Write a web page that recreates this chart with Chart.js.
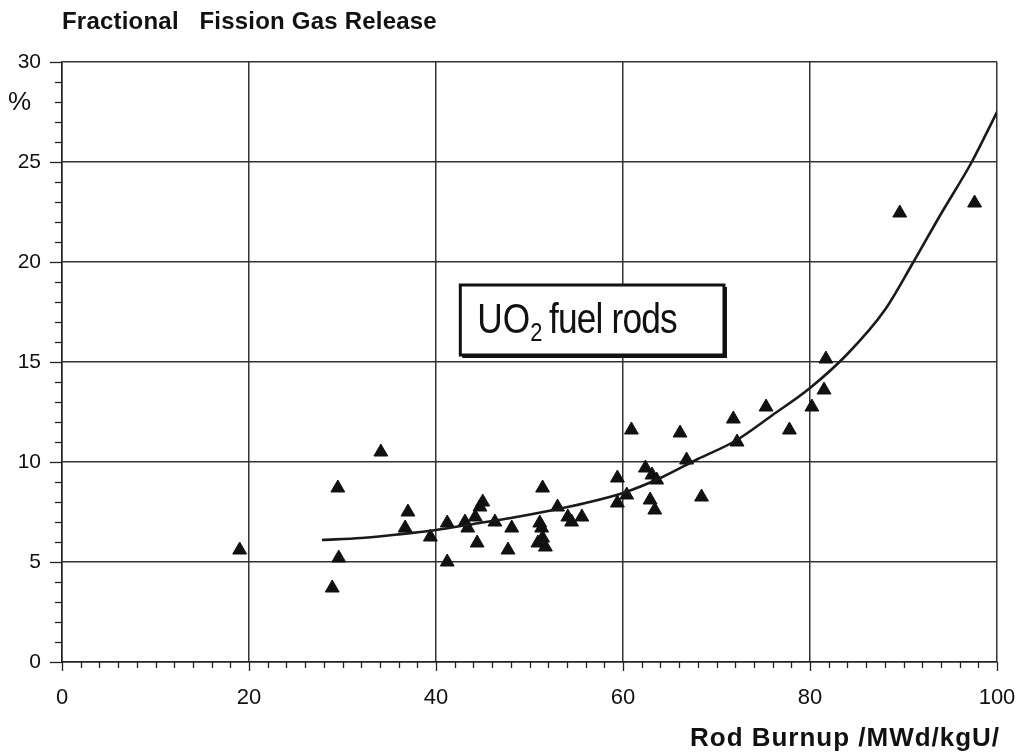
<!DOCTYPE html>
<html>
<head>
<meta charset="utf-8">
<title>Fractional Fission Gas Release</title>
<script src="https://cdn.jsdelivr.net/npm/chart.js@4.4.0/dist/chart.umd.min.js"></script>
<style>
  html, body { margin: 0; padding: 0; background: #fff; }
  canvas { display: block; }
</style>
</head>
<body>
<canvas id="fgr" width="1023" height="755"></canvas>
<script>
const burnup = [19.0, 28.9, 29.5, 29.6, 34.1, 37.0, 36.7, 39.4, 41.2, 41.2,
  43.1, 43.4, 44.4, 44.2, 44.7, 45.0, 46.3, 48.1, 47.7, 51.4,
  51.1, 51.3, 50.9, 51.7, 51.4, 53.0, 54.1, 54.5, 55.6, 60.9,
  66.1, 59.4, 62.4, 63.1, 63.6, 60.4, 59.4, 62.9, 63.4, 66.8,
  68.4, 71.8, 72.2, 75.3, 77.8, 80.2, 81.5, 81.7, 89.6, 97.6];
const release = [5.6, 3.7, 8.7, 5.2, 10.5, 7.5, 6.7, 6.25, 6.95, 5.0,
  7.0, 6.7, 5.95, 7.25, 7.75, 8.0, 7.0, 6.7, 5.6, 8.7,
  6.95, 6.7, 5.95, 5.75, 6.2, 7.75, 7.25, 7.0, 7.25, 11.6,
  11.45, 9.2, 9.7, 9.35, 9.1, 8.35, 7.95, 8.1, 7.6, 10.1,
  8.25, 12.15, 11.0, 12.75, 11.6, 12.75, 13.6, 15.15, 22.45, 22.95];

// Curva de ajuste
const fitBurnup = [27.8, 32, 36, 40, 44, 48, 52, 56, 60, 64,
  68, 72, 76, 80, 84, 88, 91, 94, 97.3, 100];
const fitRelease = [6.1, 6.2, 6.38, 6.6, 6.9, 7.2, 7.55, 7.95, 8.45, 9.2,
  10.15, 11.05, 12.35, 13.7, 15.4, 17.6, 19.95, 22.4, 25.0, 27.5];

const xLabels = [0, 20, 40, 60, 80, 100];
const yLabels = [0, 5, 10, 15, 20, 25, 30];

const FONT = '"Liberation Sans", Arial, sans-serif';
const INK = '#111';

// escribe un texto ajustando el espaciado a un ancho dado
function fitText(ctx, text, x, y, width) {
  ctx.letterSpacing = '0px';
  const w = ctx.measureText(text).width;
  ctx.letterSpacing = ((width - w) / text.length).toFixed(2) + 'px';
  ctx.fillText(text, x, y);
  ctx.letterSpacing = '0px';
}

// Textos, marcas de eje y recuadro
const extras = {
  id: 'extras',
  afterDraw(chart) {
    const { ctx, scales: { x, y } } = chart;
    ctx.save();
    ctx.strokeStyle = '#222';
    ctx.lineWidth = 1.3;
    // marcas eje Y (cada 1, mayores cada 5)
    for (let v = 0; v <= 30; v++) {
      const py = Math.round(y.getPixelForValue(v)) + 0.5;
      const len = v % 5 === 0 ? 12 : 7;
      ctx.beginPath();
      ctx.moveTo(x.left - len, py);
      ctx.lineTo(x.left, py);
      ctx.stroke();
    }
    // marcas eje X (cada 2, mayores cada 20)
    for (let v = 0; v <= 100; v += 2) {
      const px = Math.round(x.getPixelForValue(v)) + 0.5;
      const len = v % 20 === 0 ? 9 : 6;
      ctx.beginPath();
      ctx.moveTo(px, y.bottom);
      ctx.lineTo(px, y.bottom + len);
      ctx.stroke();
    }
    // títulos
    ctx.fillStyle = INK;
    ctx.textBaseline = 'alphabetic';
    ctx.textAlign = 'left';
    ctx.font = 'bold 24px ' + FONT;
    fitText(ctx, 'Fractional   Fission Gas Release', 62, 29, 375);
    ctx.font = 'bold 26px ' + FONT;
    fitText(ctx, 'Rod Burnup /MWd/kgU/', 690, 746, 310);
    ctx.font = '26px ' + FONT;
    ctx.fillText('%', 8, 110);
    ctx.restore();
  },
  afterDatasetsDraw(chart) {
    const { ctx, scales: { x, y } } = chart;
    const l = x.getPixelForValue(42.6), r = x.getPixelForValue(70.8);
    const t = y.getPixelForValue(18.85), b = y.getPixelForValue(15.35);
    ctx.save();
    ctx.fillStyle = '#fff';
    ctx.fillRect(l, t, r - l, b - t);
    ctx.strokeStyle = INK;
    ctx.lineWidth = 3;
    ctx.strokeRect(l, t, r - l, b - t);
    // sombra inferior/derecha
    ctx.lineWidth = 2;
    ctx.beginPath();
    ctx.moveTo(l + 2, b + 2);
    ctx.lineTo(r + 2, b + 2);
    ctx.lineTo(r + 2, t + 2);
    ctx.stroke();
    // texto estrecho y alto
    ctx.fillStyle = INK;
    ctx.textBaseline = 'alphabetic';
    ctx.translate(l + 17, t + 48);
    ctx.scale(0.84, 1);
    ctx.font = '42px ' + FONT;
    let tx = 0;
    ctx.fillText('UO', tx, 0);
    tx += ctx.measureText('UO').width;
    ctx.font = '26px ' + FONT;
    ctx.fillText('2', tx, 8);
    tx += ctx.measureText('2').width + 8;
    ctx.font = '42px ' + FONT;
    ctx.letterSpacing = '-1px';
    ctx.fillText('fuel rods', tx, 0);
    ctx.restore();
  }
};

new Chart(document.getElementById('fgr'), {
  data: {
    datasets: [{
      type: 'scatter',
      label: 'UO2 fuel rods',
      data: burnup.map((b, i) => ({ x: b, y: release[i] })),
      pointStyle: 'triangle',
      pointRadius: 8,
      pointHoverRadius: 8,
      backgroundColor: INK,
      borderColor: INK,
      borderWidth: 1,
      order: 2
    }, {
      type: 'line',
      label: 'Ajuste',
      data: fitBurnup.map((b, i) => ({ x: b, y: fitRelease[i] })),
      borderColor: '#1a1a1a',
      borderWidth: 2.6,
      pointRadius: 0,
      fill: false,
      cubicInterpolationMode: 'monotone',
      order: 1
    }]
  },
  options: {
    responsive: false,
    animation: false,
    layout: { padding: { top: 62, right: 26, left: 0, bottom: 0 } },
    plugins: {
      legend: { display: false },
      title: { display: false },
      tooltip: { enabled: false }
    },
    scales: {
      x: {
        type: 'linear',
        min: 0, max: 100,
        afterFit: s => { s.height = 93; s.paddingRight = 0; s.paddingLeft = 0; },
        border: { display: true, color: '#222', width: 1.5 },
        grid: {
          drawTicks: false,
          lineWidth: 1.5,
          color: c => (c.tick && xLabels.includes(c.tick.value)) ? '#333' : 'rgba(0,0,0,0)'
        },
        ticks: {
          stepSize: 2,
          autoSkip: false,
          maxRotation: 0,
          padding: 23,
          color: INK,
          font: { family: FONT, size: 22 },
          callback: v => xLabels.includes(v) ? String(v) : ''
        }
      },
      y: {
        type: 'linear',
        min: 0, max: 30,
        afterFit: s => { s.width = 62; },
        border: { display: true, color: '#222', width: 1.5 },
        grid: {
          drawTicks: false,
          lineWidth: 1.5,
          color: c => (c.tick && yLabels.includes(c.tick.value)) ? '#333' : 'rgba(0,0,0,0)'
        },
        ticks: {
          stepSize: 1,
          autoSkip: false,
          padding: 21,
          color: INK,
          font: { family: FONT, size: 21 },
          callback: v => yLabels.includes(v) ? String(v) : ''
        }
      }
    }
  },
  plugins: [extras]
});
</script>
</body>
</html>
